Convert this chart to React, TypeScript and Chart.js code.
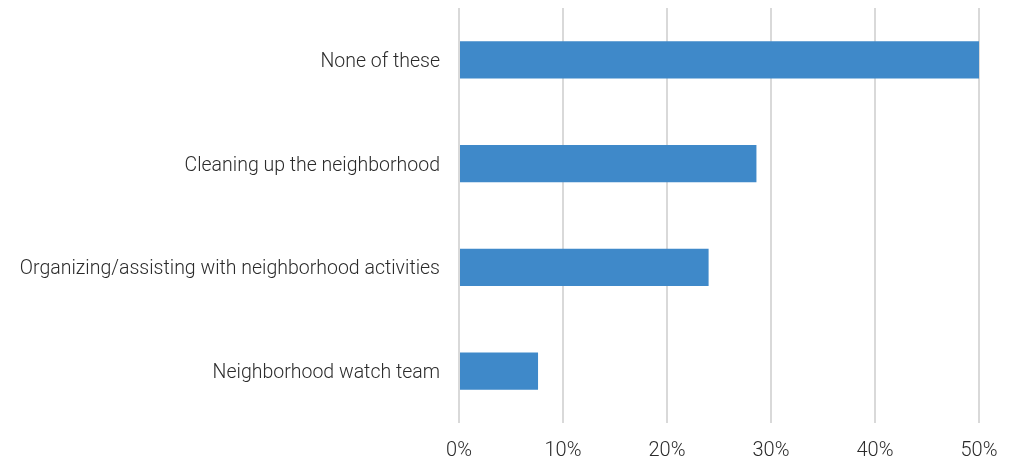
import React, { useEffect, useRef } from "react";
import { Chart, registerables } from "chart.js";

Chart.register(...registerables);

const categories = [
  "None of these",
  "Cleaning up the neighborhood",
  "Organizing/assisting with neighborhood activities",
  "Neighborhood watch team",
];
const values = [50.1, 28.6, 24.0, 7.6];
const xTicks = [0, 10, 20, 30, 40, 50];

const FONT = "Roboto";

export default function App() {
  const ref = useRef<HTMLCanvasElement | null>(null);
  useEffect(() => {
    if (!ref.current) return;
    const chart = new Chart(ref.current, {
      type: "bar",
      data: {
        labels: categories,
        datasets: [
          {
            data: values,
            backgroundColor: "#3f89c9",
            barPercentage: 0.357,
            categoryPercentage: 1,
          },
        ],
      },
      options: {
        indexAxis: "y",
        animation: false,
        responsive: false,
        maintainAspectRatio: false,
        layout: { padding: { top: 8, right: 42, bottom: 0, left: 0 } },
        plugins: { legend: { display: false }, tooltip: { enabled: false } },
        scales: {
          x: {
            min: 0,
            max: 50,
            afterBuildTicks: (s: any) => {
              s.ticks = xTicks.map((v) => ({ value: v }));
            },
            afterFit: (s: any) => {
              s.height = 40;
              s.paddingLeft = 0;
              s.paddingRight = 0;
            },
            grid: { color: "#d9d9d9", lineWidth: 2, drawTicks: false },
            border: { display: false },
            ticks: {
              padding: 16,
              color: "#2b2b2b",
              font: { family: FONT, size: 20, weight: 300 },
              callback: (v: any) => v + "%",
            },
          },
          y: {
            afterFit: (s: any) => {
              s.width = 459;
              s.paddingTop = 0;
              s.paddingBottom = 0;
            },
            grid: { display: false, drawTicks: false },
            border: { display: false },
            ticks: {
              padding: 19,
              labelOffset: 2,
              color: "#2b2b2b",
              font: { family: FONT, size: 19.5, weight: 300 },
            },
          },
        },
      },
    });
    return () => chart.destroy();
  }, []);
  return (
    <div style={{ position: "absolute", left: 0, top: 0, width: 1021, height: 463 }}>
      <canvas ref={ref} width={1021} height={463} />
    </div>
  );
}
